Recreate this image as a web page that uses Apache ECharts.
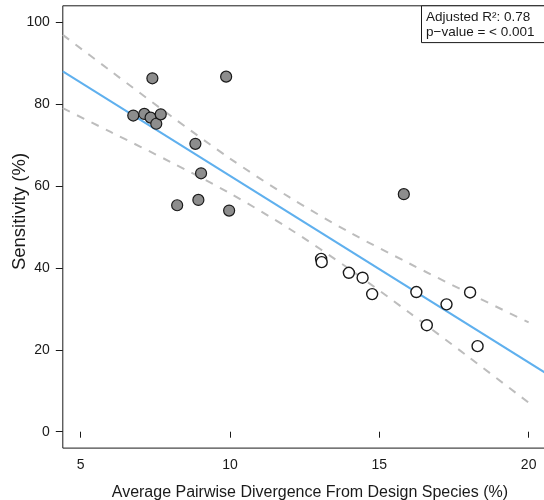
<!DOCTYPE html>
<html>
<head>
<meta charset="utf-8">
<script src="https://cdn.jsdelivr.net/npm/echarts@6/dist/echarts.min.js"></script>
<style>
  html, body { margin: 0; padding: 0; background: #fff; }
  #chart { width: 544px; height: 500px; }
</style>
</head>
<body>
<div id="chart"></div>
<script>
// Tick positions
const xTicks = [5, 10, 15, 20];
const yTicks = [0, 20, 40, 60, 80, 100];

// Design-species group (filled points)
const grayX = [6.76, 7.13, 7.34, 7.53, 7.68, 7.40, 9.87, 8.84, 9.03, 8.94, 8.23, 9.97, 15.82];
const grayY = [77.2, 77.6, 76.7, 75.2, 77.5, 86.3, 86.7, 70.3, 63.1, 56.6, 55.3, 54.0, 58.0];

// Other group (open points)
const openX = [13.05, 13.07, 13.98, 14.44, 14.76, 16.24, 16.59, 17.25, 18.04, 18.29];
const openY = [42.2, 41.4, 38.8, 37.6, 33.6, 34.1, 26.0, 31.1, 34.0, 20.9];

// Fitted regression line, ends of the x range
const fitX = [4.4, 20.95];
const fitY = [88.0, 12.6];

// 95% confidence band around the fit
const bandX = [4.4, 6, 8, 10, 12, 14, 16, 18, 20];
const bandUpper = [96.9, 88.1, 77.2, 66.7, 57.2, 48.7, 41.1, 33.8, 26.7];
const bandLower = [79.0, 73.2, 65.9, 58.2, 49.5, 39.7, 29.1, 18.2, 7.1];

const xTitle = 'Average Pairwise Divergence From Design Species (%)';
const yTitle = 'Sensitivity (%)';
const statLines = ['Adjusted R\u00b2: 0.78', 'p\u2212value = < 0.001'];

const zip = (xs, ys) => xs.map((x, i) => [x, ys[i]]);

const FONT = '"Liberation Sans", Arial, Helvetica, sans-serif';
const INK = '#1a1a1a';

const chart = echarts.init(document.getElementById('chart'), null, { renderer: 'canvas' });

const dashed = {
  type: 'line',
  symbol: 'none',
  smooth: 0.3,
  silent: true,
  z: 2,
  lineStyle: { color: '#bdbdbd', width: 2, type: [8, 8] }
};

chart.setOption({
  animation: false,
  backgroundColor: '#fff',
  grid: {
    left: 62.8, right: -13, top: 5.8, bottom: 51.9,
    show: true, borderColor: INK, borderWidth: 1,
    outerBoundsMode: 'none', containLabel: false
  },
  xAxis: {
    type: 'value', min: 4.4, max: 20.95,
    name: xTitle,
    nameLocation: 'middle', nameGap: 36, nameMoveOverlap: false,
    nameTextStyle: { fontFamily: FONT, fontSize: 16, color: INK },
    axisLine: { show: false },
    splitLine: { show: false },
    axisTick: { show: true, inside: false, length: 6, customValues: xTicks, lineStyle: { color: INK, width: 1 } },
    axisLabel: { customValues: xTicks, margin: 10, fontFamily: FONT, fontSize: 14, color: INK }
  },
  yAxis: {
    type: 'value', min: -4, max: 104,
    axisLine: { show: false },
    splitLine: { show: false },
    axisTick: { show: true, inside: false, length: 7, customValues: yTicks, lineStyle: { color: INK, width: 1 } },
    axisLabel: { customValues: yTicks, margin: 13, fontFamily: FONT, fontSize: 14, color: INK }
  },
  series: [
    Object.assign({ name: 'upper', data: zip(bandX, bandUpper) }, dashed),
    Object.assign({ name: 'lower', data: zip(bandX, bandLower) }, dashed),
    {
      name: 'fit', type: 'line', symbol: 'none', silent: true, z: 3,
      data: zip(fitX, fitY),
      lineStyle: { color: '#5fb0ee', width: 2 }
    },
    {
      name: 'design', type: 'scatter', z: 5, symbol: 'circle', symbolSize: 11,
      data: zip(grayX, grayY),
      itemStyle: { color: '#8d8d8d', borderColor: INK, borderWidth: 1.2, opacity: 1 }
    },
    {
      name: 'other', type: 'scatter', z: 5, symbol: 'circle', symbolSize: 11,
      data: zip(openX, openY),
      itemStyle: { color: '#ffffff', borderColor: INK, borderWidth: 1.4, opacity: 1 }
    }
  ],
  graphic: [
    {
      // vertical axis title
      type: 'text', x: 20, y: 211.5, rotation: Math.PI / 2,
      style: { text: yTitle, font: '18.5px ' + FONT, fill: INK, align: 'center', verticalAlign: 'middle' }
    },
    {
      type: 'group', z: 100,
      children: [
        {
          type: 'rect',
          shape: { x: 421.5, y: 5.8, width: 140, height: 36.8 },
          style: { fill: '#fff', stroke: INK, lineWidth: 1 }
        },
        {
          type: 'text', x: 426, y: 16.8,
          style: { text: statLines[0], font: '13.5px ' + FONT, fill: INK, textVerticalAlign: 'middle' }
        },
        {
          type: 'text', x: 426, y: 31.8,
          style: { text: statLines[1], font: '13.5px ' + FONT, fill: INK, textVerticalAlign: 'middle' }
        }
      ]
    }
  ]
});
</script>
</body>
</html>
